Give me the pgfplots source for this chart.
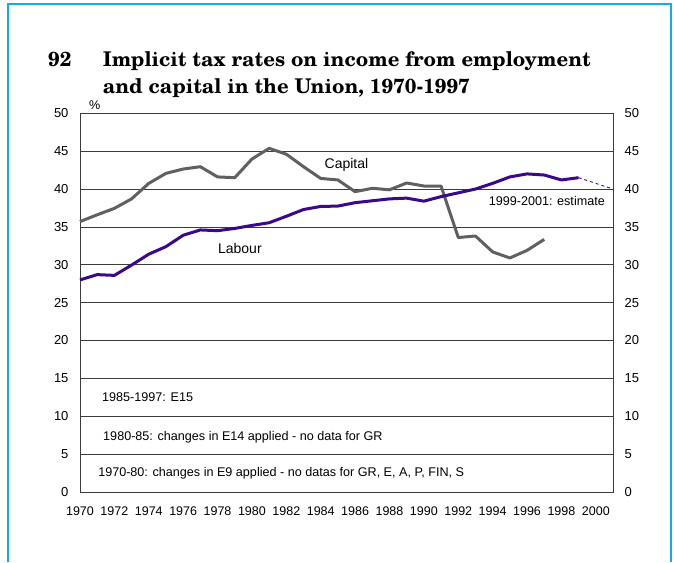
\documentclass[border=0pt]{standalone}
\usepackage{pgfplots}
\pgfplotsset{compat=1.18}
\usepackage{fontspec}
\setmainfont{Liberation Sans}
\newfontfamily\titlefont{texgyreschola}[Extension=.otf,UprightFont=*-regular,BoldFont=*-bold]

\definecolor{labour}{RGB}{58,8,138}
\definecolor{capital}{RGB}{96,96,96}
\definecolor{framec}{RGB}{20,170,235}
\definecolor{gridc}{RGB}{60,60,60}

\pgfplotsset{
  base/.style={
    at={(80pt,70pt)}, anchor=south west,
    scale only axis, width=533pt, height=378.7pt,
    xmin=1970, xmax=2001, ymin=0, ymax=50,
    ytick={0,5,...,50},
    major tick length=0pt,
    /pgf/number format/assume math mode=true,
    /pgf/number format/1000 sep={},
    yticklabel style={font=\fontsize{13}{15}\selectfont},
    xticklabel style={font=\fontsize{12.5}{14}\selectfont},
  }
}

\begin{document}
\begin{tikzpicture}[x=1pt,y=1pt]
\useasboundingbox (0,0) rectangle (674,562);
\draw[framec, line width=2pt] (8.3,0) -- (8.3,557.7) -- (671,557.7) -- (671,0);

% title
\begin{scope}[every node/.style={anchor=base west, inner sep=0pt,
    font=\titlefont\bfseries\fontsize{20.3}{24}\selectfont}]
  \node at (48,495.3) {92};
  \node at (102.7,495.3) {Implicit tax rates on income from employment};
  \node at (102.7,468.7) {and capital in the Union, 1970-1997};
\end{scope}

\begin{axis}[base,
    xtick={1970,1972,...,2000},
    xticklabel style={yshift=-11pt},
    yticklabel style={xshift=-8pt},
    ymajorgrids,
    grid style={gridc, line width=0.8pt},
    axis line style={gridc, line width=0.8pt},
    clip=false,
  ]
  \addplot[capital, line width=3pt, line join=round] coordinates {
    (1970,35.7) (1971,36.6) (1972,37.45) (1973,38.7) (1974,40.75)
    (1975,42.07) (1976,42.64) (1977,42.95) (1978,41.6) (1979,41.5)
    (1980,43.96) (1981,45.37) (1982,44.6) (1983,42.95) (1984,41.4)
    (1985,41.2) (1986,39.65) (1987,40.1) (1988,39.9) (1989,40.8)
    (1990,40.4) (1991,40.4) (1992,33.6) (1993,33.8) (1994,31.7)
    (1995,30.9) (1996,31.9) (1997,33.35)
  };
  \addplot[labour, line width=3pt, line join=round] coordinates {
    (1970,28.0) (1971,28.7) (1972,28.6) (1973,29.96) (1974,31.4)
    (1975,32.4) (1976,33.9) (1977,34.6) (1978,34.5) (1979,34.8)
    (1980,35.2) (1981,35.55) (1982,36.4) (1983,37.3) (1984,37.7)
    (1985,37.75) (1986,38.2) (1987,38.45) (1988,38.7) (1989,38.8)
    (1990,38.4) (1991,39.0) (1992,39.5) (1993,40.0) (1994,40.75)
    (1995,41.6) (1996,42.0) (1997,41.85) (1998,41.2) (1999,41.5)
  };
  \addplot[labour, line width=0.9pt, dash pattern=on 3pt off 3pt] coordinates {
    (1999,41.5) (2001,40.0)
  };

  \begin{scope}[every node/.style={font=\fontsize{14}{16}\selectfont, inner sep=0pt}]
    \node at (axis cs:1985.5,43.2) {Capital};
    \node at (axis cs:1979.3,32.1) {Labour};
  \end{scope}
  \begin{scope}[every node/.style={font=\fontsize{12.6}{14}\selectfont, inner sep=0pt}]
    \node at (axis cs:1997.15,38.4) {1999-2001: estimate};
    \node[anchor=west] at (axis cs:1971.28,12.55) {1985-1997: E15};
    \node[anchor=west] at (axis cs:1971.34,7.27) {1980-85: changes in E14 applied - no data for GR};
    \node[anchor=west] at (axis cs:1971.05,2.5) {1970-80: changes in E9 applied - no datas for GR, E, A, P, FIN, S};
    \node[anchor=base] at (axis cs:1970.85,50.5) {\%};
  \end{scope}
\end{axis}

\begin{axis}[base,
    axis x line=none,
    axis y line*=right,
    axis line style={gridc, line width=0.8pt},
    yticklabel style={xshift=8pt},
  ]
\end{axis}
\end{tikzpicture}
\end{document}
